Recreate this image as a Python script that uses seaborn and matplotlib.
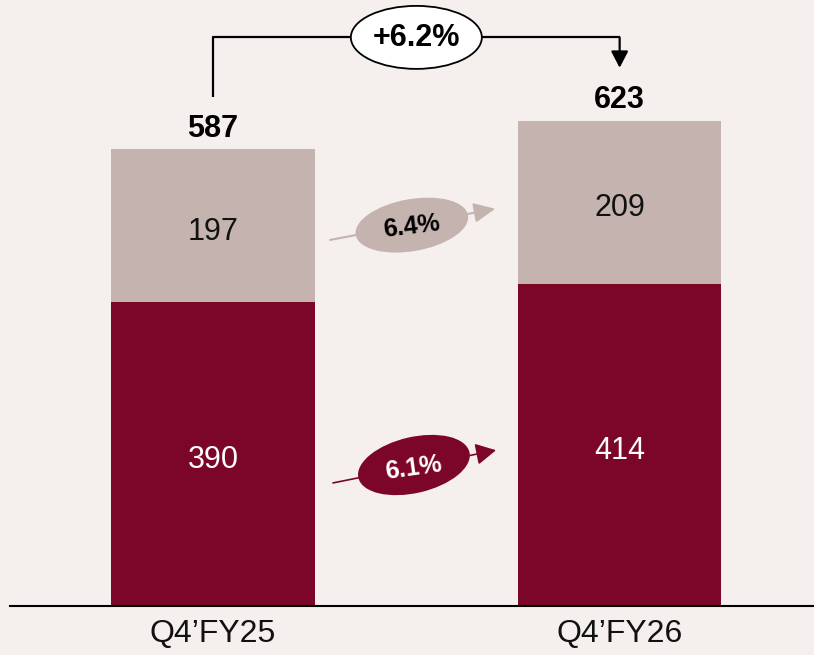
import matplotlib
matplotlib.use("Agg")
import matplotlib.pyplot as plt
import matplotlib.patches as mpatches
import matplotlib.transforms as mtransforms
import seaborn as sns
import pandas as pd

# ---- data ----
categories = ["Q4\u2019FY25", "Q4\u2019FY26"]
bottom_vals = [390, 414]
top_vals = [197, 209]
totals = [587, 623]
growth_total = "+6.2%"
growth_top = "6.4%"
growth_bottom = "6.1%"

BG = "#F5F0ED"
RED = "#7B0628"
GREY = "#C4B3AF"

sns.set_theme(style="white")
plt.rcParams["font.family"] = ["Liberation Sans", "DejaVu Sans"]

fig = plt.figure(figsize=(8.14, 6.55), dpi=100, facecolor=BG)
ax = fig.add_axes([10 / 814, 49 / 655, 804 / 814, 606 / 655])
ax.set_facecolor(BG)

df = pd.DataFrame({"cat": categories, "bottom": bottom_vals, "top": top_vals, "total": totals})

sns.barplot(data=df, x="cat", y="total", color=GREY, width=0.5, ax=ax,
            saturation=1, edgecolor="none", linewidth=0)
sns.barplot(data=df, x="cat", y="bottom", color=RED, width=0.5, ax=ax,
            saturation=1, edgecolor="none", linewidth=0)

ax.set_xlim(-0.4994, 1.478)
ax.set_ylim(0, 778)
ax.set_xlabel("")
ax.set_ylabel("")
ax.set_yticks([])
for s in ["top", "left", "right"]:
    ax.spines[s].set_visible(False)
ax.spines["bottom"].set_color("black")
ax.spines["bottom"].set_linewidth(1.5)
ax.tick_params(axis="x", length=0, pad=9, labelsize=23, labelcolor="#111111")

# segment labels
for i in range(len(categories)):
    ax.text(i, bottom_vals[i] / 2 - 8, str(bottom_vals[i]), ha="center", va="center",
            fontsize=22, color="white")
    ax.text(i, bottom_vals[i] + top_vals[i] / 2 - 8, str(top_vals[i]), ha="center", va="center",
            fontsize=22, color="#111111")
    ax.text(i, totals[i] + 26, str(totals[i]), ha="center", va="center",
            fontsize=22, fontweight="bold", color="black")


def ellipse_at(x, y, w_px, h_px, angle, fc, ec="none", lw=0, z=5):
    tr = fig.dpi_scale_trans + mtransforms.ScaledTranslation(x, y, ax.transData)
    e = mpatches.Ellipse((0, 0), w_px / 100, h_px / 100, angle=angle, transform=tr,
                         facecolor=fc, edgecolor=ec, linewidth=lw, zorder=z, clip_on=False)
    ax.add_patch(e)


# total growth bracket
y_br = 730
ax.plot([0, 0, 1], [totals[0] + 66, y_br, y_br], color="black", lw=1.6, zorder=4,
        solid_capstyle="butt", clip_on=False)
ax.annotate("", xy=(1, totals[1] + 68), xytext=(1, y_br),
            arrowprops=dict(arrowstyle="-|>,head_length=0.5,head_width=0.26",
                            mutation_scale=20, color="black", lw=1.6,
                            shrinkA=0, shrinkB=0), zorder=4)
ellipse_at(0.5, y_br, 131, 63, 0, "white", ec="black", lw=1.3, z=5)
ax.text(0.5, y_br - 1, growth_total, ha="center", va="center", fontsize=22,
        fontweight="bold", color="black", zorder=6)

# segment growth arrows
ax.annotate("", xy=(0.694, 510), xytext=(0.288, 470),
            arrowprops=dict(arrowstyle="-|>,head_length=0.65,head_width=0.3",
                            mutation_scale=20, color=GREY, lw=1.5,
                            shrinkA=0, shrinkB=0), zorder=4)
ellipse_at(0.489, 489, 114, 52, 10, GREY, z=5)
ax.text(0.487, 487, growth_top, ha="center", va="center", fontsize=18,
        fontweight="bold", color="black", rotation=7, zorder=6)

ax.annotate("", xy=(0.696, 200), xytext=(0.295, 158),
            arrowprops=dict(arrowstyle="-|>,head_length=0.62,head_width=0.33",
                            mutation_scale=20, color=RED, lw=1.2,
                            shrinkA=0, shrinkB=0), zorder=4)
ellipse_at(0.494, 181, 114, 56, 13, RED, z=5)
ax.text(0.492, 177, growth_bottom, ha="center", va="center", fontsize=18,
        fontweight="bold", color="white", rotation=8, zorder=6)

fig.savefig("out.png", dpi=100, facecolor=BG)
